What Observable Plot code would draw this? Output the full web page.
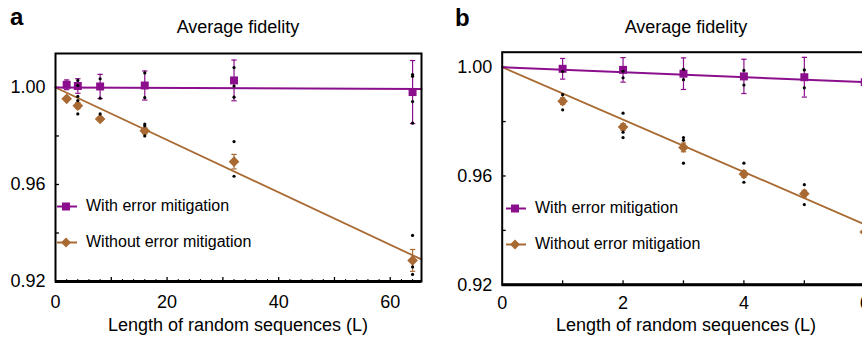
<!DOCTYPE html>
<html>
<head>
<meta charset="utf-8">
<script src="https://cdn.jsdelivr.net/npm/d3@7"></script>
<script src="https://cdn.jsdelivr.net/npm/@observablehq/plot@0.6"></script>
<style>
  html, body { margin: 0; padding: 0; background: #fff; }
  body { width: 862px; height: 337px; overflow: hidden; position: relative; font-family: "Liberation Sans", Arial, sans-serif; }
  .abs { position: absolute; white-space: nowrap; color: #000; }
  .panel { position: absolute; top: 0; }
  .tag { font-weight: bold; font-size: 24px; }
  .title, .xlab { font-size: 18px; transform: translateX(-50%); }
  .leg { position: absolute; font-size: 16px; display: flex; align-items: center; white-space: nowrap; }
  .leg svg { margin-right: 9px; }
</style>
</head>
<body>
<script>
// ---------- Data ----------
const seriesNames = ["With error mitigation", "Without error mitigation"];
const colWith = "#8b0f8d";
const colWithout = "#a86a32";

// Panel a
const aL = [2, 4, 8, 16, 32, 64];
const aWith = [1.0011, 1.0006, 1.0004, 1.0008, 1.0029, 0.9981];
const aWithErr = [0.002, 0.003, 0.005, 0.006, 0.0084, 0.013];
const aWithout = [0.9953, 0.9925, 0.9870, 0.9821, 0.9694, 0.9287];
const aWithoutErr = [0.0008, 0.0012, 0.0008, 0.0012, 0.003, 0.0045];
const aRawL = [4, 4, 8, 8, 16, 16, 32, 32, 32, 64, 64, 64, 64,
               4, 4, 4, 8, 16, 16, 16, 32, 32, 64, 64, 64];
const aRawF = [1.0029, 1.0008, 1.0036, 0.9956, 1.0060, 0.9958, 1.0082, 1.0006, 0.9960, 1.0053, 1.0046, 0.9942, 0.9853,
               0.9963, 0.9946, 0.9891, 0.9891, 0.9849, 0.9842, 0.9800, 0.9777, 0.9634, 0.9390, 0.9260, 0.9229];
const aFitL = [0, 65.6];
const aFitWith = [1.0, 0.99935];
const aFitWithout = [1.0, 0.9291];
const aXTicks = [0, 20, 40, 60];
const aXMajor = [10, 20, 30, 40, 50, 60];
const aXMinor = [2, 4, 6, 8, 12, 14, 16, 18, 22, 24, 26, 28, 32, 34, 36, 38, 42, 44, 46, 48, 52, 54, 56, 58, 62, 64];
const aYTicks = [0.92, 0.96, 1.00];
const aYMajor = [0.94, 0.96, 0.98, 1.00];

// Panel b
const bL = [1, 2, 3, 4, 5, 6];
const bWith = [0.9994, 0.9990, 0.9976, 0.9966, 0.9963, 0.9945];
const bWithErr = [0.0038, 0.0045, 0.0058, 0.0063, 0.0073, 0.007];
const bWithout = [0.9875, 0.9780, 0.9705, 0.9607, 0.9535, 0.9394];
const bWithoutErr = [0.0012, 0.0012, 0.0016, 0.0012, 0.0012, 0.001];
const bRawL = [1, 2, 2, 3, 3, 4, 4, 5, 5,
               1, 1, 2, 2, 2, 3, 3, 3, 4, 4, 5, 5];
const bRawF = [0.9984, 0.9985, 0.9961, 0.9992, 0.9954, 0.9988, 0.9934, 0.9990, 0.9924,
               0.9899, 0.9843, 0.9831, 0.9761, 0.9741, 0.9741, 0.9731, 0.9647, 0.9647, 0.9577, 0.9568, 0.9495];
const bFitL = [0, 6.1];
const bFitWith = [1.0, 0.99439];
const bFitWithout = [1.0, 0.94126];
const bXTicks = [0, 2, 4, 6];
const bXMajor = [1, 2, 3, 4, 5, 6];
const bYTicks = [0.92, 0.96, 1.00];
const bYMajor = [0.94, 0.96, 0.98, 1.00];

// ---------- helpers ----------
const capSymbol = { draw(ctx, size) { const r = Math.sqrt(size) / 2; ctx.moveTo(-r, 0); ctx.lineTo(r, 0); } };

function rows(L, v, e) { return L.map((x, i) => ({ x, y: v[i], lo: v[i] - e[i], hi: v[i] + e[i] })); }

function panel(cfg) {
  const W = rows(cfg.L, cfg.with, cfg.withErr);
  const WO = rows(cfg.L, cfg.without, cfg.withoutErr);
  const raw = cfg.rawL.map((x, i) => ({ x, y: cfg.rawF[i] }));
  const fitW = cfg.fitL.map((x, i) => ({ x, y: cfg.fitWith[i] }));
  const fitWO = cfg.fitL.map((x, i) => ({ x, y: cfg.fitWithout[i] }));
  const frameH = cfg.height - cfg.mt - cfg.mb;
  const frameW = cfg.width - cfg.ml - cfg.mr;
  const marks = [
    Plot.axisX(cfg.xTicks, { tickSize: 0, tickPadding: cfg.xPad, fontSize: 18, label: null, tickFormat: d3.format("d") }),
    Plot.axisY(cfg.yTicks, { tickSize: 0, tickPadding: 10, fontSize: 18, label: null, tickFormat: d3.format(".2f") }),
    Plot.tickX(cfg.xMajor, { x: d => d, insetTop: frameH - 4, stroke: "#000", strokeWidth: 1.3 }),
    Plot.tickY(cfg.yMajor, { y: d => d, insetRight: frameW - 4, stroke: "#000", strokeWidth: 1.3 }),
  ];
  if (cfg.xMinor) marks.push(Plot.tickX(cfg.xMinor, { x: d => d, insetTop: frameH - 2, stroke: "#000", strokeWidth: 1 }));
  marks.push(
    Plot.line(fitWO, { x: "x", y: "y", stroke: colWithout, strokeWidth: 1.8 }),
    Plot.line(fitW, { x: "x", y: "y", stroke: colWith, strokeWidth: 2 }),
    Plot.ruleX(W, { x: "x", y1: "lo", y2: "hi", stroke: colWith, strokeWidth: 1.2 }),
    Plot.dot(W, { x: "x", y: "lo", symbol: capSymbol, r: 3, stroke: colWith, strokeWidth: 1.2, fill: "none" }),
    Plot.dot(W, { x: "x", y: "hi", symbol: capSymbol, r: 3, stroke: colWith, strokeWidth: 1.2, fill: "none" }),
    Plot.ruleX(WO, { x: "x", y1: "lo", y2: "hi", stroke: colWithout, strokeWidth: 1.2 }),
    Plot.dot(WO, { x: "x", y: "lo", symbol: capSymbol, r: 3, stroke: colWithout, strokeWidth: 1.2, fill: "none" }),
    Plot.dot(WO, { x: "x", y: "hi", symbol: capSymbol, r: 3, stroke: colWithout, strokeWidth: 1.2, fill: "none" }),
    Plot.dot(W, { x: "x", y: "y", symbol: "square", r: 4.5, fill: colWith, stroke: "none" }),
    Plot.dot(WO, { x: "x", y: "y", symbol: "diamond2", r: 4.8, fill: colWithout, stroke: "none" }),
    Plot.dot(raw, { x: "x", y: "y", r: 1.6, fill: "#000", stroke: "none" }),
    Plot.frame({ stroke: "#000", strokeWidth: 2 }),
    Plot.ruleY([cfg.yDomain[0]], { stroke: "#000", strokeWidth: 3 })
  );
  return Plot.plot({
    width: cfg.width, height: cfg.height,
    marginLeft: cfg.ml, marginRight: cfg.mr, marginTop: cfg.mt, marginBottom: cfg.mb,
    x: { domain: cfg.xDomain },
    y: { domain: cfg.yDomain },
    style: { fontFamily: "'Liberation Sans', Arial, sans-serif", fontSize: "18px", color: "#000", background: "transparent", overflow: "visible" },
    marks
  });
}

function legendIcon(color, sym) {
  const shape = sym === "square"
    ? `<rect x="5" y="3.5" width="8" height="8" fill="${color}"/>`
    : `<path d="M9,2.5 L14,7.5 L9,12.5 L4,7.5 Z" fill="${color}"/>`;
  return `<svg width="20" height="15" viewBox="0 0 20 15"><line x1="0" y1="7.5" x2="20" y2="7.5" stroke="${color}" stroke-width="2"/>${shape}</svg>`;
}

function addText(cls, text, left, top) {
  const d = document.createElement("div");
  d.className = "abs " + cls;
  d.textContent = text;
  d.style.left = left + "px";
  d.style.top = top + "px";
  document.body.appendChild(d);
}

function addLegend(left, top, color, sym, text) {
  const d = document.createElement("div");
  d.className = "leg";
  d.style.left = left + "px";
  d.style.top = top + "px";
  d.innerHTML = legendIcon(color, sym) + `<span>${text}</span>`;
  document.body.appendChild(d);
}

// ---------- Panel a ----------
const pa = panel({
  L: aL, with: aWith, withErr: aWithErr, without: aWithout, withoutErr: aWithoutErr,
  rawL: aRawL, rawF: aRawF, fitL: aFitL, fitWith: aFitWith, fitWithout: aFitWithout,
  xTicks: aXTicks, xMajor: aXMajor, xMinor: aXMinor, yTicks: aYTicks, yMajor: aYMajor,
  xDomain: [0, 65.6], yDomain: [0.92, 1.014],
  width: 430, height: 337, ml: 55, mr: 9, mt: 53, mb: 56, xPad: 14
});
pa.classList.add("panel");
pa.style.left = "0px";
document.body.appendChild(pa);

// ---------- Panel b ----------
const pb = panel({
  L: bL, with: bWith, withErr: bWithErr, without: bWithout, withoutErr: bWithoutErr,
  rawL: bRawL, rawF: bRawF, fitL: bFitL, fitWith: bFitWith, fitWithout: bFitWithout,
  xTicks: bXTicks, xMajor: bXMajor, xMinor: null, yTicks: bYTicks, yMajor: bYMajor,
  xDomain: [0, 6.1], yDomain: [0.92, 1.0055],
  width: 450, height: 337, ml: 71.7, mr: 9.7, mt: 51.7, mb: 52.7, xPad: 11
});
pb.classList.add("panel");
pb.style.left = "430px";
document.body.appendChild(pb);

// ---------- Texts ----------
addText("tag", "a", 10, 3);
addText("tag", "b", 455, 4);
addText("title", "Average fidelity", 238, 17);
addText("title", "Average fidelity", 686, 17);
addText("xlab", "Length of random sequences (L)", 238, 315);
addText("xlab", "Length of random sequences (L)", 686, 315);

addLegend(57, 197, colWith, "square", seriesNames[0]);
addLegend(57, 233, colWithout, "diamond", seriesNames[1]);
addLegend(506, 199, colWith, "square", seriesNames[0]);
addLegend(506, 235, colWithout, "diamond", seriesNames[1]);
</script>
</body>
</html>
